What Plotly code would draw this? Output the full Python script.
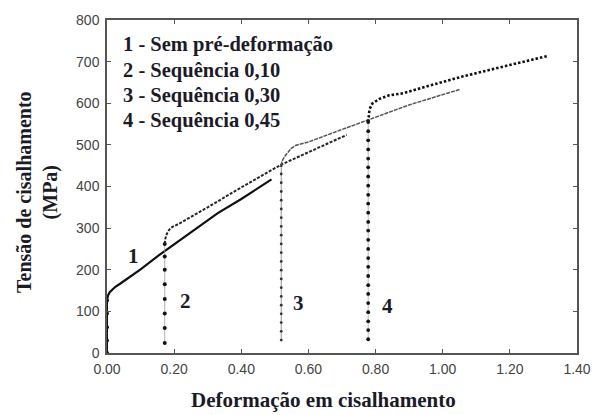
import plotly.graph_objects as go

# Shear stress-strain curves: monotonic test and reloaded pre-strained sequences
c1_x = [0, 0, 0, 0, 0, 0.003, 0.008, 0.015, 0.025, 0.04, 0.06, 0.10, 0.155, 0.25, 0.33, 0.40, 0.49]
c1_y = [0, 30, 62, 95, 126, 138, 146, 152, 159, 167, 178, 201, 235, 290, 336, 370, 417]

c2_x = [0.172, 0.172, 0.172, 0.172, 0.172, 0.172, 0.172, 0.172,
        0.174, 0.178, 0.185, 0.195, 0.213, 0.30, 0.40, 0.52, 0.62, 0.714]
c2_y = [24, 60, 95, 130, 165, 200, 232, 262,
        275, 286, 296, 303, 310, 350, 398, 453, 490, 524]

c3_x = [0.519, 0.519, 0.519, 0.519, 0.519, 0.519, 0.519, 0.519, 0.519, 0.519, 0.519,
        0.519, 0.519, 0.519, 0.519, 0.519, 0.519, 0.519, 0.519, 0.519, 0.519,
        0.521, 0.528, 0.538, 0.548, 0.563, 0.60, 0.70, 0.784, 0.90, 1.05]
c3_y = [31, 52, 73, 94, 115, 136, 157, 178, 199, 220, 241,
        262, 283, 304, 325, 346, 367, 388, 409, 430, 450,
        460, 471, 480, 491, 499, 507, 537, 562, 596, 633]

c4_x = [0.778, 0.778, 0.778, 0.778, 0.778, 0.778, 0.778, 0.778, 0.778, 0.778, 0.778, 0.778, 0.778,
        0.778, 0.778, 0.778, 0.778, 0.778, 0.778, 0.778, 0.778, 0.778, 0.778, 0.778, 0.778,
        0.779, 0.782, 0.79, 0.81, 0.84, 0.883, 0.95, 1.058, 1.20, 1.315]
c4_y = [33, 55, 76, 98, 120, 142, 163, 185, 207, 228, 250, 272, 294,
        315, 337, 359, 380, 402, 424, 446, 467, 489, 511, 533, 555,
        570, 586, 599, 610, 619, 624, 640, 664, 692, 714]

legend_lines = ["1 - Sem pré-deformação", "2 - Sequência 0,10",
                "3 - Sequência 0,30", "4 - Sequência 0,45"]
curve_tags = ["1", "2", "3", "4"]
tag_x = [0.079, 0.233, 0.571, 0.837]
tag_y = [233, 124, 119, 114]

x_ticks = [0, 0.2, 0.4, 0.6, 0.8, 1.0, 1.2, 1.4]
x_tick_text = ["0.00", "0.20", "0.40", "0.60", "0.80", "1.00", "1.20", "1.40"]
y_ticks = [0, 100, 200, 300, 400, 500, 600, 700, 800]

SERIF = "Liberation Serif"
SANS = "Liberation Sans"
INK = "#1b1b28"

# per-curve styling: flow line, elastic connector, elastic dots
styles = [
    dict(flow=dict(color="#111", width=2.2), vline=dict(color="#111", width=2.0),
         dot=dict(size=4, color="#111")),
    dict(flow=dict(color="#262626", width=2.0, dash="3px,1.5px"), vline=dict(color="#999", width=0.8),
         dot=dict(size=4, color="#111")),
    dict(flow=dict(color="#555", width=1.5, dash="4px,1px"), vline=dict(color="#888", width=0.9),
         dot=dict(size=2.8, color="#333")),
    dict(flow=dict(color="#111", width=2.6, dash="2.5px,2px"), vline=dict(color="#aaa", width=0.8),
         dot=dict(size=3.8, color="#111")),
]

fig = go.Figure()
for (xs, ys), st in zip([(c1_x, c1_y), (c2_x, c2_y), (c3_x, c3_y), (c4_x, c4_y)], styles):
    n_el = sum(1 for v in xs if v == xs[0])
    # elastic (vertical) portion: thin connector plus dots
    fig.add_trace(go.Scatter(x=xs[:n_el], y=ys[:n_el], mode="lines+markers",
                             line=st["vline"], marker=st["dot"], hoverinfo="skip"))
    # plastic flow portion
    fig.add_trace(go.Scatter(x=xs[n_el - 1:], y=ys[n_el - 1:], mode="lines",
                             line=st["flow"], hoverinfo="skip"))

for i, txt in enumerate(legend_lines):
    fig.add_annotation(x=0.042, y=740 - i * 60.5, xref="x", yref="y", text=f"<b>{txt}</b>",
                       showarrow=False, xanchor="left", yanchor="middle",
                       font=dict(family=SERIF, size=20.5, color=INK))

for t, tx, ty in zip(curve_tags, tag_x, tag_y):
    fig.add_annotation(x=tx, y=ty, xref="x", yref="y", text=f"<b>{t}</b>", showarrow=False,
                       xanchor="center", yanchor="middle",
                       font=dict(family=SERIF, size=21, color=INK))

fig.add_annotation(x=0.46, y=-0.14, xref="paper", yref="paper",
                   text="<b>Deformação em cisalhamento</b>", showarrow=False,
                   xanchor="center", yanchor="middle",
                   font=dict(family=SERIF, size=21, color=INK))
fig.add_annotation(x=-0.148, y=0.485, xref="paper", yref="paper",
                   text="<b>Tensão de cisalhamento<br>(MPa)</b>", showarrow=False,
                   textangle=-90, xanchor="center", yanchor="middle",
                   font=dict(family=SERIF, size=20, color=INK))

axis_common = dict(showgrid=False, zeroline=False, showline=True, linecolor="#555",
                   linewidth=1.5, mirror="ticks", ticks="inside", ticklen=4,
                   tickcolor="#555", tickwidth=1.2,
                   tickfont=dict(family=SANS, size=14, color="#444"))

fig.update_xaxes(range=[0, 1.4], tickvals=x_ticks, ticktext=x_tick_text,
                 ticklabelstandoff=2, **axis_common)
fig.update_yaxes(range=[0, 800], tickvals=y_ticks, ticklabelstandoff=3, **axis_common)

fig.update_layout(width=603, height=415, margin=dict(l=107, r=16, t=17, b=62),
                  paper_bgcolor="white", plot_bgcolor="white", showlegend=False)

fig.write_html("out.html")
